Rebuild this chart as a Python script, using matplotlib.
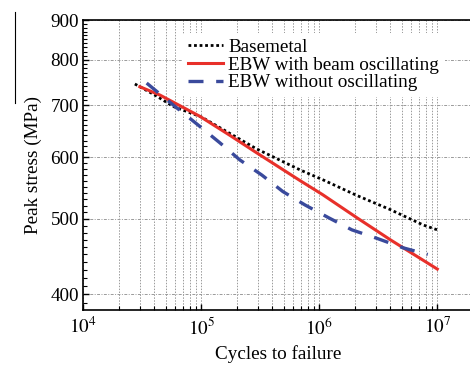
import numpy as np
import matplotlib
matplotlib.use('Agg')
import matplotlib.pyplot as plt
from matplotlib.ticker import LogLocator, FixedLocator, MultipleLocator, NullFormatter
from matplotlib.lines import Line2D

plt.rcParams['font.family'] = ['Liberation Serif', 'DejaVu Serif']
plt.rcParams['mathtext.fontset'] = 'stix'

# 读图估计的数据
base_n = [2.74e4, 4.05e4, 5.8e4, 1.0e5, 2.94e5, 6.86e5, 1.08e6, 2.07e6, 3.98e6, 7.6e6, 1.0e7]
base_s = [745, 721, 697, 676, 615, 578, 561, 536, 514, 491, 484]

osc_n = [3.02e4, 4.47e4, 9.75e4, 1.75e5, 2.94e5, 6.86e5, 1.07e6, 2.07e6, 4.0e6, 1.0e7]
osc_s = [739, 721, 677, 640, 608, 560, 537, 502, 470, 431]

noosc_n = [3.45e4, 5.8e4, 9.4e4, 1.44e5, 2.13e5, 3.27e5, 4.92e5, 7.57e5, 1.19e6, 1.89e6, 3.08e6, 5.12e6, 8.3e6]
noosc_s = [747, 700, 660, 626, 595, 569, 542, 521, 502, 484, 472, 459, 450]

labels = ['Basemetal', 'EBW with beam oscillating', 'EBW without oscillating']
y_ticks = [400, 500, 600, 700, 800, 900]

fs = 13.8

fig = plt.figure(figsize=(4.7, 3.65), dpi=100)
ax = fig.add_axes([0.177, 0.151, 1.006 - 0.177, 0.945 - 0.151])

ax.plot(base_n, base_s, color='black', lw=2.0, linestyle=(0, (1, 1)), label=labels[0], zorder=3)
ax.plot(osc_n, osc_s, color='#e8302a', lw=2.2, label=labels[1], zorder=3)
ax.plot(noosc_n, noosc_s, color='#3a4a9c', lw=2.4, linestyle=(0, (4.5, 3.8)), label=labels[2], zorder=3)

ax.set_xscale('log')
ax.set_yscale('log')
ax.set_xlim(1e4, 2e7)
ax.set_ylim(382, 900)

ax.xaxis.set_major_locator(FixedLocator([1e4, 1e5, 1e6, 1e7]))
ax.xaxis.set_minor_locator(LogLocator(base=10, subs=np.arange(2, 10)))
ax.set_xticklabels([r'$10^{4}$', r'$10^{5}$', r'$10^{6}$', r'$10^{7}$'])
ax.xaxis.set_minor_formatter(NullFormatter())

ax.yaxis.set_major_locator(FixedLocator(y_ticks))
ax.yaxis.set_minor_locator(MultipleLocator(10))
ax.set_yticklabels([str(v) for v in y_ticks])
ax.yaxis.set_minor_formatter(NullFormatter())

ax.tick_params(which='both', direction='in', top=False, right=False, labelsize=fs)
ax.tick_params(which='major', length=4, width=1)
ax.tick_params(which='minor', length=3, width=0.8)
ax.tick_params(axis='x', pad=5)
ax.tick_params(axis='y', pad=3)

# 网格
ax.grid(True, which='both', axis='x', color='#9a9a9a', lw=0.7, linestyle=(0, (1.5, 1.5)))
ax.grid(True, which='major', axis='y', color='#9a9a9a', lw=0.7, linestyle=(0, (3, 1.5, 1, 1.5)))

for sp in ax.spines.values():
    sp.set_linewidth(1.2)

ax.set_xlabel('Cycles to failure', fontsize=fs, labelpad=5)
ax.set_ylabel('Peak stress (MPa)', fontsize=fs, labelpad=6)

leg = ax.legend(loc='upper left', bbox_to_anchor=(0.23, 0.99), frameon=True, fontsize=fs,
                handlelength=1.8, handletextpad=0.3, labelspacing=0.02, borderpad=0.3)
leg.get_frame().set_edgecolor('none')
leg.get_frame().set_facecolor('white')
leg.get_frame().set_alpha(1)

fig.add_artist(Line2D([15 / 470, 15 / 470], [1 - 12 / 365, 1 - 103 / 365], color='black', lw=0.8))

fig.savefig('out.png', dpi=100)
